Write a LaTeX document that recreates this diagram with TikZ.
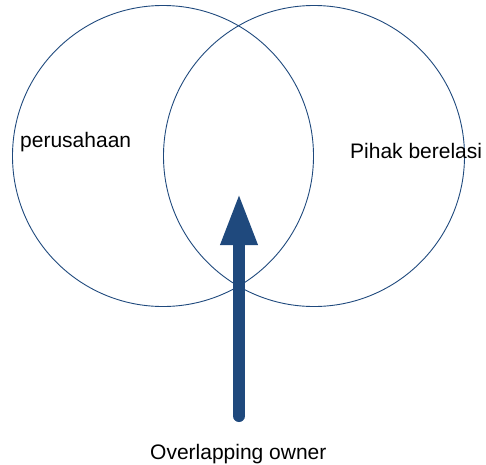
\documentclass[tikz,border=0pt]{standalone}
\usepackage{fontspec}
\setmainfont{Liberation Sans}
\usetikzlibrary{shapes, arrows.meta, positioning}
\definecolor{birutua}{RGB}{31,73,125}
\tikzstyle{lingkaran} = [draw=birutua, line width=0.9pt, circle, minimum size=301pt, inner sep=0pt]
\tikzstyle{label} = [font=\fontsize{21}{25}\selectfont, inner sep=0pt, anchor=base west]
\tikzstyle{panah} = [draw=birutua, line width=12pt, line cap=round, -{Triangle[length=52pt, width=34pt]}]

\begin{document}
\begin{tikzpicture}[x=1pt, y=-1pt]
	\useasboundingbox (0,0) rectangle (486,464);
	\node [lingkaran] (perusahaan) at (163,156) {};
	\node [lingkaran] (pihak) at (314,156) {};
	\node [label] (lblperusahaan) at (20,147) {perusahaan};
	\node [label] (lblpihak) at (350,158) {Pihak berelasi};
	\node [label] (lblowner) at (150,459) {Overlapping owner};
	\coordinate (pangkal) at (239,416);
	\coordinate (ujung) at (239,193);
	\draw [panah] (pangkal) -- (ujung);
\end{tikzpicture}
\end{document}
